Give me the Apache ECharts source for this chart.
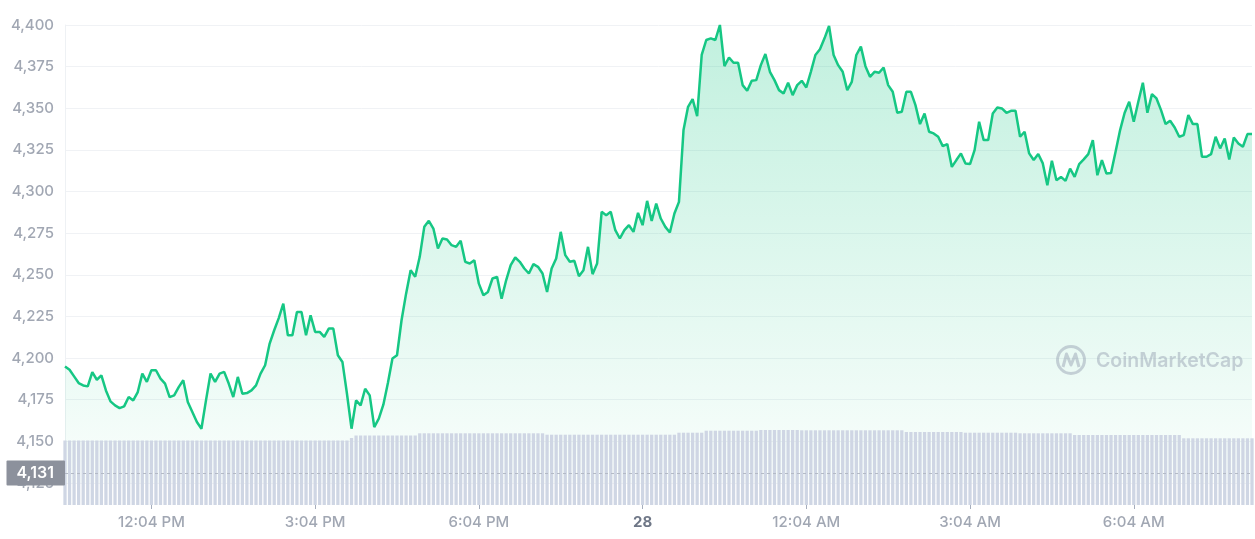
<!DOCTYPE html>
<html><head><meta charset="utf-8">
<script src="https://cdn.jsdelivr.net/npm/echarts@6/dist/echarts.min.js"></script>
<style>html,body{margin:0;padding:0;background:#fff}#c{width:1255px;height:539px}</style>
</head><body><div id="c"></div>
<script>
// ---- data (5-minute samples) ----
const startClock = { h: 10, m: 29 };   // time of the first sample
const stepMinutes = 5;

const price = [
4195,4193,4189,4185,4183.6,4183,4191.6,4187,4189.6,4180.6,
4174,4171.6,4170,4171,4176.6,4174.6,4179.6,4190.7,4185.7,4192.7,
4192.7,4187.7,4184.7,4176.6,4177.6,4182.6,4186.7,4173.6,4167.6,4161.6,
4157.6,4174.6,4190.7,4185.7,4190.7,4191.7,4184.7,4176.6,4188.7,4178.6,
4179.0,4180.6,4183.6,4190.7,4195.7,4208.7,4216.7,4224,4232.7,4213.7,
4213.7,4227.7,4227.7,4213.7,4225.7,4215.7,4215.7,4212.7,4217.7,4217.7,
4201.7,4197.7,4178.6,4157.6,4174.6,4171.6,4181.6,4177.6,4158.6,4163.6,
4172,4185,4199.7,4201.7,4222.7,4238.7,4252.8,4248.8,4260.8,4278.8,
4282.4,4277.8,4265.8,4271.8,4271.2,4267.8,4266.8,4270.4,4257.8,4256.8,
4258.8,4244.7,4237.7,4239.7,4247.8,4248.8,4235.7,4246.7,4255.8,4260.4,
4257.8,4253.8,4250.8,4256.4,4254.8,4250.8,4239.7,4253.8,4259.8,4275.8,
4261.8,4257.8,4258.4,4249.2,4252.8,4266.8,4250.4,4256.8,4287.8,4285.8,
4287.8,4276.8,4271.8,4276.8,4279.8,4275.8,4287.2,4279.8,4294.4,4282.4,
4292.8,4283.8,4278.8,4275.4,4286.8,4293.8,4336.9,4350.9,4355.5,4345.3,
4382.0,4391.0,4392.0,4391.0,4400.0,4375.3,4380.5,4377.3,4377.3,4363.9,
4360.5,4366.5,4366.9,4375.9,4382.6,4371.9,4366.9,4360.9,4358.9,4365.3,
4357.9,4363.9,4366.5,4362.5,4371.9,4382.0,4385.4,4392.0,4399.4,4382.0,
4375.9,4371.9,4360.9,4365.9,4382.0,4387.0,4375.3,4368.9,4371.9,4371.3,
4374.5,4363.9,4359.9,4347.3,4347.9,4359.9,4359.9,4351.9,4340.5,4346.9,
4335.9,4334.9,4332.9,4327.3,4328.5,4314.8,4318.9,4322.9,4316.9,4316.5,
4324.9,4341.9,4330.9,4330.9,4346.9,4350.5,4349.9,4347.3,4348.5,4348.5,
4332.9,4335.9,4322.9,4318.9,4322.5,4316.9,4303.8,4318.5,4306.8,4308.8,
4306.4,4313.8,4308.8,4316.5,4319.3,4322.5,4330.9,4309.8,4318.9,4310.8,
4311.2,4323.9,4336.9,4347.3,4353.9,4341.9,4353.9,4365.3,4347.3,4358.5,
4355.9,4348.9,4340.5,4342.5,4338.5,4332.9,4333.9,4345.9,4340.5,4340.5,
4320.9,4320.9,4322.5,4332.9,4325.9,4331.9,4319.3,4332.5,4328.9,4326.9,
4334.5,4334.5
];

// volume (arbitrary units)
const volume = [
12.9,12.9,12.9,12.9,12.9,12.9,12.9,12.9,12.9,12.9,
12.9,12.9,12.9,12.9,12.9,12.9,12.9,12.9,12.9,12.9,
12.9,12.9,12.9,12.9,12.9,12.9,12.9,12.9,12.9,12.9,
12.9,12.9,12.9,12.9,12.9,12.9,12.9,12.9,12.9,12.9,
12.9,12.9,12.9,12.9,12.9,12.9,12.9,12.9,12.9,12.9,
12.9,12.9,12.9,12.9,12.9,12.9,12.9,12.9,12.9,12.9,
12.9,12.9,12.9,13.4,13.9,13.9,13.9,13.9,13.9,13.9,
13.9,13.9,13.9,13.9,13.9,13.9,13.9,13.9,14.34,14.34,
14.34,14.34,14.34,14.34,14.34,14.34,14.34,14.34,14.34,14.34,
14.34,14.34,14.34,14.34,14.34,14.34,14.34,14.34,14.34,14.34,
14.34,14.34,14.34,14.34,14.34,14.34,14.06,14.06,14.06,14.06,
14.06,14.06,14.06,14.06,14.06,14.06,14.06,14.06,14.06,14.06,
14.06,14.06,14.06,14.06,14.06,14.06,14.06,14.06,14.06,14.06,
14.06,14.06,14.06,14.06,14.06,14.46,14.46,14.46,14.46,14.46,
14.46,14.86,14.86,14.86,14.86,14.86,14.86,14.86,14.86,14.86,
14.86,14.86,14.86,15.0,15.0,15.0,15.0,15.0,15.0,15.0,
15.0,15.0,14.94,14.94,14.94,14.94,14.94,14.94,14.94,14.94,
14.94,14.94,14.94,14.94,14.94,14.94,14.94,14.94,14.94,14.94,
14.94,14.94,14.94,14.94,14.94,14.6,14.6,14.6,14.6,14.6,
14.6,14.6,14.6,14.6,14.6,14.6,14.6,14.6,14.46,14.46,
14.46,14.46,14.46,14.46,14.46,14.46,14.46,14.46,14.46,14.46,
14.34,14.34,14.34,14.34,14.34,14.34,14.34,14.34,14.34,14.34,
14.34,14.34,14.0,14.0,14.0,14.0,14.0,14.0,14.0,14.0,
14.0,14.0,14.0,14.0,14.0,14.0,14.0,14.0,14.0,14.0,
14.0,14.0,14.0,14.0,14.0,14.0,13.34,13.34,13.34,13.34,
13.34,13.34,13.34,13.34,13.34,13.34,13.34,13.34,13.34,13.34,
13.34,13.34
];

const tickTimes = ['12:04 PM','3:04 PM','6:04 PM','9:04 PM','12:04 AM','3:04 AM','6:04 AM'];
const tickTexts = ['12:04 PM','3:04 PM','6:04 PM','28','12:04 AM','3:04 AM','6:04 AM'];
const lastPrice = 4131;
const priceMin = 4125, priceMax = 4400, priceStep = 25;

// ---- build ----
function clock(totalMin) {
  const m = ((totalMin % 1440) + 1440) % 1440;
  const h = Math.floor(m / 60), mm = m % 60;
  const ap = h >= 12 ? 'PM' : 'AM';
  let h12 = h % 12; if (h12 === 0) h12 = 12;
  return h12 + ':' + String(mm).padStart(2, '0') + ' ' + ap;
}
const startMin = startClock.h * 60 + startClock.m;
const categories = price.map((_, i) => clock(startMin + i * stepMinutes));
const fmtNum = v => Number(v).toLocaleString('en-US');
const isTick = (idx, val) => tickTimes.indexOf(val) >= 0;

const FONT = 'Inter, "Noto Sans", sans-serif';
const WM = 'rgba(150,160,178,0.48)';
const chart = echarts.init(document.getElementById('c'), null, { renderer: 'canvas' });
chart.setOption({
  animation: false,
  backgroundColor: '#ffffff',
  grid: [
    { left: 65, right: 3, top: 25, bottom: 56 },
    { left: 65, right: 3, top: 425, bottom: 34 }
  ],
  xAxis: [
    { type: 'category', gridIndex: 0, data: categories, boundaryGap: false, show: false },
    {
      type: 'category', gridIndex: 1, data: categories, boundaryGap: false,
      axisLine: { show: false },
      axisTick: { show: true, interval: isTick, length: 4, lineStyle: { color: '#a6aebd', width: 1 } },
      axisLabel: {
        interval: isTick, margin: 10, fontFamily: FONT, fontSize: 15, fontWeight: 500, color: '#a1a7b3',
        formatter: function (v) {
          const k = tickTimes.indexOf(v);
          if (k < 0) return '';
          const t = tickTexts[k];
          return /^\d+$/.test(t) ? '{b|' + t + '}' : t;
        },
        rich: { b: { fontFamily: FONT, fontSize: 15, fontWeight: 700, color: '#6f7787' } }
      },
      splitLine: { show: false }
    }
  ],
  yAxis: [
    {
      type: 'value', gridIndex: 0, min: priceMin, max: priceMax, interval: priceStep,
      axisLine: { show: true, lineStyle: { color: '#eef1f4' } },
      axisTick: { show: false },
      axisLabel: { margin: 11, fontFamily: FONT, fontSize: 15, fontWeight: 500, color: '#a1a7b3', formatter: fmtNum },
      splitLine: { show: true, lineStyle: { color: '#f0f2f5', width: 1 } }
    },
    { type: 'value', gridIndex: 1, min: 0, max: 16, show: false, splitLine: { show: false } }
  ],
  graphic: [
    { type: 'circle', z: 10, shape: { cx: 1071, cy: 360, r: 13.5 }, style: { fill: 'none', stroke: WM, lineWidth: 3 } },
    { type: 'polyline', z: 10, shape: { points: [[1063, 367], [1066.5, 354], [1071, 365], [1075.5, 354], [1079, 367]] }, style: { fill: 'none', stroke: WM, lineWidth: 3, lineJoin: 'round' } },
    { type: 'text', z: 10, style: { x: 1096, y: 361, text: 'CoinMarketCap', fill: WM, font: '600 19.5px Inter, sans-serif', verticalAlign: 'middle' } }
  ],
  series: [
    {
      type: 'line', xAxisIndex: 0, yAxisIndex: 0, data: price, z: 2, clip: false,
      showSymbol: false, symbol: 'none',
      lineStyle: { color: '#16c784', width: 2.5 },
      areaStyle: {
        color: new echarts.graphic.LinearGradient(0, 0, 0, 1, [
          { offset: 0, color: 'rgba(22,199,132,0.38)' },
          { offset: 1, color: 'rgba(22,199,132,0.03)' }
        ])
      },
      markLine: {
        silent: true, z: 6, symbol: ['none', 'none'],
        lineStyle: { type: [3, 3], color: '#b4bac6', width: 1 },
        label: {
          position: 'start', distance: 0, formatter: fmtNum(lastPrice),
          backgroundColor: '#8c919c', color: '#ffffff', padding: [5, 11, 4, 10],
          fontFamily: FONT, fontSize: 16, fontWeight: 600, borderRadius: 1
        },
        data: [{ yAxis: lastPrice }]
      }
    },
    {
      type: 'bar', xAxisIndex: 1, yAxisIndex: 1, data: volume, z: 3,
      barCategoryGap: '28%',
      itemStyle: { color: '#cfd6e4' }
    }
  ]
});
</script></body></html>
